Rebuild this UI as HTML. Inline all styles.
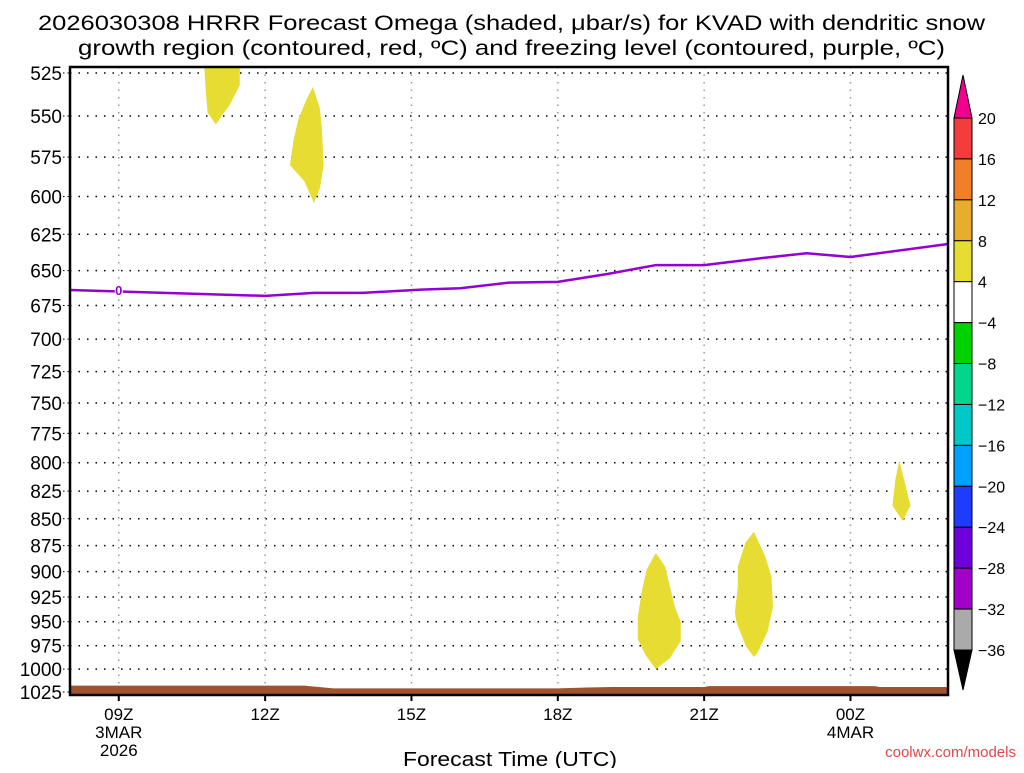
<!DOCTYPE html>
<html><head><meta charset="utf-8"><style>
body{margin:0;background:#fff;width:1024px;height:768px;overflow:hidden}
svg text{font-family:"Liberation Sans",sans-serif}
</style></head><body>
<svg id="chart" width="1024" height="768" viewBox="0 0 1024 768" xmlns="http://www.w3.org/2000/svg">
<text x="38" y="30" font-size="21" textLength="947" lengthAdjust="spacingAndGlyphs" fill="#000">2026030308 HRRR Forecast Omega (shaded, μbar/s) for KVAD with dendritic snow</text>
<text x="78" y="55" font-size="21" textLength="867" lengthAdjust="spacingAndGlyphs" fill="#000">growth region (contoured, red, ºC) and freezing level (contoured, purple, ºC)</text>
<g id="grid"></g>
<g id="marks"></g>
<g id="axes"></g>
<g id="cbar"></g>
<text x="403" y="766" font-size="20" textLength="214" lengthAdjust="spacingAndGlyphs">Forecast Time (UTC)</text>
<text x="1016" y="757" font-size="15" text-anchor="end" fill="#e04848">coolwx.com/models</text>
</svg>
<script>
const pressureTicks=[525,550,575,600,625,650,675,700,725,750,775,800,825,850,875,900,925,950,975,1000,1025];
const timeTicks=[9,12,15,18,21,24];
const timeLabels=["09Z","12Z","15Z","18Z","21Z","00Z"];
const dateLabels=[["3MAR","2026"],null,null,null,null,["4MAR"]];
const freezeHours=[8,12,13,14,15.2,16,17,18,19,20,21,22.2,23.1,24,26];
const freezeP=[663.8,668,665.8,665.8,663.5,662.5,658.5,658,652.5,646.2,646.2,641.2,637.9,640.5,631.6];
const surfHours=[8,12.8,13.4,18,18.6,19.1,21,21.1,24.5,24.6,26];
const surfP=[1018,1018,1021,1021,1020,1019.5,1019.5,1018.5,1018.5,1019.5,1019.5];
const omegaBlobs=[
 [[10.75,520],[11.48,520],[11.48,532],[11.28,543],[10.99,555],[10.82,548],[10.79,538]],
 [[12.98,533],[13.12,545],[13.16,556],[13.2,580],[13.12,595],[13.0,604],[12.8,590],[12.51,580],[12.58,565],[12.68,552],[12.85,540]],
 [[20.01,882],[20.2,895],[20.3,915],[20.4,935],[20.52,950],[20.52,970],[20.3,988],[20.01,1000],[19.8,985],[19.64,968],[19.64,945],[19.72,920],[19.82,898]],
 [[22.02,862],[22.25,885],[22.38,905],[22.41,935],[22.3,960],[22.1,982],[22.02,987],[21.85,975],[21.66,950],[21.63,940],[21.69,915],[21.69,895],[21.85,872]],
 [[25.0,798],[25.1,815],[25.23,838],[25.07,852],[24.86,838],[24.92,815]]
];
const cbarLabels=["20","16","12","8","4","\u22124","\u22128","\u221212","\u221216","\u221220","\u221224","\u221228","\u221232","\u221236"];
const cbarColors=["#f53c3c","#f07f28","#e8ad2c","#e6dc32","#ffffff","#00d200","#00d68c","#00c8c8","#00a0ff","#1e3cff","#6e00dc","#a000c8","#aaaaaa"];

const L=70,R=948,T=67,B=695;
const X=h=>L+(h-8)*48.78;
const Y=p=>73+619*Math.log(p/525)/Math.log(1025/525);
const NS="http://www.w3.org/2000/svg";
function mk(tag,attrs,parent,txt){const e=document.createElementNS(NS,tag);for(const k in attrs)e.setAttribute(k,attrs[k]);if(txt!=null)e.textContent=txt;parent.appendChild(e);return e;}
const grid=document.getElementById('grid'),marks=document.getElementById('marks'),axes=document.getElementById('axes'),cbar=document.getElementById('cbar');

pressureTicks.forEach(p=>{
 const y=Y(p);
 const gl=mk('line',{x1:L,x2:R,y1:y,y2:y,stroke:'#000','stroke-width':1.5,'stroke-dasharray':'1.5 7'},grid);
 
 
 const tl=mk('text',{x:62,y:y+7,'font-size':19,'text-anchor':'end',fill:'#000'},axes,String(p));
 
 
 mk('line',{x1:63,x2:L,y1:y,y2:y,stroke:'#000','stroke-width':1,'stroke-dasharray':'1.5 3'},axes);
});
timeTicks.forEach((h,i)=>{
 const x=X(h);
 const gl=mk('line',{x1:x,x2:x,y1:T,y2:B,stroke:'#999','stroke-width':1.5,'stroke-dasharray':'1.5 6'},grid);
 
 
 mk('line',{x1:x,x2:x,y1:B,y2:B+6,stroke:'#000','stroke-width':2},axes);
 const t=mk('text',{x:x,y:720,'font-size':17,'text-anchor':'middle'},axes,timeLabels[i]);
 
 
 if(dateLabels[i])dateLabels[i].forEach((d,j)=>{
  const dt=mk('text',{x:x,y:738+j*18,'font-size':17,'text-anchor':'middle'},axes,d);
  
  
 });
});
let sp=`${X(surfHours[0])},${B}`;
surfHours.forEach((h,i)=>{sp+=` ${X(h)},${Y(surfP[i])}`;});
sp+=` ${X(surfHours[surfHours.length-1])},${B}`;
const sf=mk('polygon',{points:sp,fill:'#a0522d'},marks);


const clip=mk('clipPath',{id:'pc'},marks);mk('rect',{x:L,y:T,width:R-L,height:B-T},clip);
omegaBlobs.forEach((b,i)=>{
 const pg=mk('polygon',{points:b.map(([h,p])=>`${X(h)},${Y(p)}`).join(' '),fill:'#e6dc32','clip-path':'url(#pc)'},marks);
 
 
});
const fl=mk('polyline',{points:freezeHours.map((h,i)=>`${X(h)},${Y(freezeP[i])}`).join(' '),fill:'none',stroke:'#9400d3','stroke-width':2.5,'stroke-linejoin':'round'},marks);


mk('rect',{x:X(9)-4,y:Y(663.8)-7,width:8,height:13,fill:'#fff'},marks);
const zl=mk('text',{x:X(9),y:Y(663.8)+5,'font-size':13,'text-anchor':'middle',fill:'#9400d3','font-weight':'bold'},marks,'0');


const fr=mk('rect',{x:L,y:T,width:R-L,height:B-T,fill:'none',stroke:'#000','stroke-width':2.5},axes);


const cx=954,cw=18,ct=118,cb=650,bh=(cb-ct)/cbarColors.length;
mk('polygon',{points:`${cx},${ct} ${cx+cw},${ct} ${cx+cw/2},${75}`,fill:'#f0008c',stroke:'#000','stroke-width':1},cbar);
mk('polygon',{points:`${cx},${cb} ${cx+cw},${cb} ${cx+cw/2},${690}`,fill:'#000',stroke:'#000','stroke-width':1},cbar);
cbarColors.forEach((c,i)=>{
 const r=mk('rect',{x:cx,y:ct+i*bh,width:cw,height:bh,fill:c,stroke:'#000','stroke-width':1},cbar);
 
 
});
cbarLabels.forEach((t,i)=>{
 const tx=mk('text',{x:cx+cw+6,y:ct+i*bh+6,'font-size':16},cbar,t);
 
 
});
</script>
</body></html>
